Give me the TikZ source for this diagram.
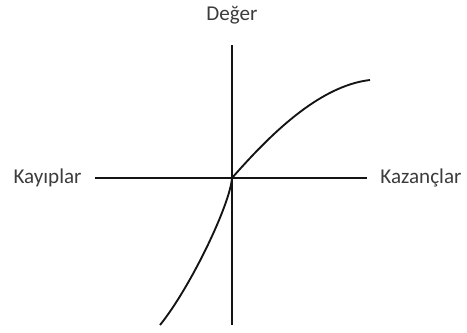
\documentclass[tikz,border=0pt]{standalone}
\usepackage{fontspec}
\setmainfont{Carlito}
\usepackage{tikz}
\usetikzlibrary{positioning, calc}
\definecolor{mydark}{RGB}{20,20,20}
\definecolor{mytext}{RGB}{60,60,60}
\tikzset{
  axislabel/.style={font=\fontsize{18}{21}\selectfont, text=mytext, inner sep=1pt},
  axis/.style={line width=0.9pt, color=mydark},
  curve/.style={line width=1.6pt, color=mydark}
}

\begin{document}
\begin{tikzpicture}[x=0.03cm, y=-0.03cm]
  \useasboundingbox (0,0) rectangle (467,333);

  % Axes ends
  \coordinate (O) at (232,178);
  \coordinate (top) at (232,45);
  \coordinate (bottom) at (232,325);
  \coordinate (left) at (95,178);
  \coordinate (right) at (367,178);

  % Labels
  \node[axislabel] (deger) at (232,15) {Değer};
  \node[axislabel, anchor=east] (kayip) at (83,178) {Kayıplar};
  \node[axislabel, anchor=west] (kazanc) at (379,178) {Kazançlar};

  % Axes
  \draw[axis] (top) -- (bottom);
  \draw[axis] (left) -- (right);

  % Value function
  \coordinate (lossend) at (160,325);
  \coordinate (gainend) at (370,80);
  \draw[curve] (lossend) .. controls (190,288) and (230,205) .. (O)
    .. controls (268,137) and (318,86) .. (gainend);
\end{tikzpicture}
\end{document}
